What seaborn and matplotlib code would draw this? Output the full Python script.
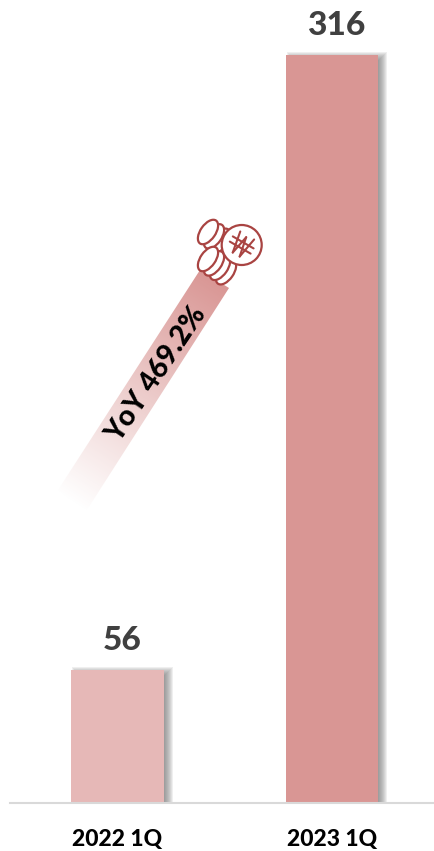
import numpy as np
import pandas as pd
import seaborn as sns
import matplotlib.pyplot as plt
from matplotlib.patches import Rectangle, Polygon, Circle, Ellipse

quarters = ['2022 1Q', '2023 1Q']
values = [56, 316]
bar_colors = ['#E6B8B7', '#D99694']
yoy_label = 'YoY 469.2%'

W, H = 434, 851

sns.set_theme(style='white')
plt.rcParams['font.family'] = ['Lato', 'DejaVu Sans']

df = pd.DataFrame({'quarter': quarters, 'value': values})

fig = plt.figure(figsize=(W / 100, H / 100), dpi=100)
ax = fig.add_axes([10 / W, (H - 803) / H, (W - 10) / W, 803 / H])

sns.barplot(data=df, x='quarter', y='value', hue='quarter', palette=bar_colors,
            legend=False, width=0.433, saturation=1, edgecolor='none', linewidth=0,
            ax=ax, zorder=3)

ax.set_xlim(-0.501, 1.4755)
ax.set_ylim(0, 803 / (748 / 316))
ax.set_xlabel('')
ax.set_ylabel('')
ax.set_yticks([])
ax.patch.set_alpha(0)
sns.despine(ax=ax, left=True)
ax.spines['bottom'].set_color('#D9D9D9')
ax.spines['bottom'].set_linewidth(1.5)
ax.spines['bottom'].set_zorder(4)
ax.tick_params(axis='x', length=0, pad=19)
for lab in ax.get_xticklabels():
    lab.set_fontsize(16.5)
    lab.set_fontweight('black')
    lab.set_color('black')

# soft shadow behind each bar, stacked rectangles around the bar edges
px_x = (ax.get_xlim()[1] - ax.get_xlim()[0]) / (W - 10)
px_y = ax.get_ylim()[1] / 803
for bar in list(ax.patches):
    x0, w, h = bar.get_x(), bar.get_width(), bar.get_height()
    for grow in range(4, -5, -1):
        ax.add_patch(Rectangle((x0 + (5 - grow) * px_x, 0),
                               w + 2 * grow * px_x, h + (grow - 1) * px_y,
                               fc='#6E6E6E', ec='none', alpha=0.11, zorder=2))
    ax.text(x0 + w / 2 + 4.5 * px_x, h + 15 * px_y, '%d' % h, ha='center', va='bottom',
            fontsize=24, fontweight='black', color='#404040', zorder=5)

# overlay in pixel coordinates for the arrow band and the coin icon
ov = fig.add_axes([0, 0, 1, 1], zorder=5)
ov.set_xlim(0, W)
ov.set_ylim(H, 0)
ov.axis('off')

corners = [(200, 270), (229, 288), (85, 513), (58, 490)]
top = np.array([214.5, 279.0])
tail = np.array([71.5, 501.5])
axis_vec = tail - top
xx, yy = np.meshgrid(np.arange(50, 235), np.arange(265, 520))
t = ((xx - top[0]) * axis_vec[0] + (yy - top[1]) * axis_vec[1]) / (axis_vec @ axis_vec)
t = np.clip(t, 0, 1)
rgba = np.zeros(t.shape + (4,))
rgba[..., :3] = np.array([217, 150, 148]) / 255
rgba[..., 3] = 1 - t
im = ov.imshow(rgba, extent=(50, 235, 520, 265), interpolation='bilinear', aspect='auto', zorder=1)
clip = Polygon(corners, closed=True, transform=ov.transData, fc='none', ec='none')
ov.add_patch(clip)
im.set_clip_path(clip)
ov.set_xlim(0, W)
ov.set_ylim(H, 0)

ov.text(157, 374, yoy_label, rotation=56, rotation_mode='anchor', ha='center', va='center',
        fontsize=20.5, fontweight='black', color='black', zorder=3)

# coin stacks, back to front, upper stack first
icon = '#A94442'
lw = 1.6
order = 3.0
for cx, cy, n in [(208, 232, 2), (208, 259, 3)]:
    for i in range(n, -1, -1):
        order += 0.01
        ov.add_patch(Ellipse((cx + i * 6, cy + i * 4.4), 15, 28, angle=35,
                             fc='white', ec=icon, lw=lw, zorder=order))
ov.add_patch(Circle((241.7, 245), 20, fc='white', ec=icon, lw=lw, zorder=4))

# won sign drawn as strokes, tilted with the coin
ang = np.deg2rad(30)
rot = np.array([[np.cos(ang), -np.sin(ang)], [np.sin(ang), np.cos(ang)]])
strokes = [[(-12, -3), (12, -3)], [(-12, 3), (12, 3)],
           [(-8, -11), (-4, 11)], [(-4, 11), (0, -9)], [(0, -9), (4, 11)], [(4, 11), (8, -11)]]
for s in strokes:
    p = np.array(s) @ rot.T + np.array([241.7, 245])
    ov.plot(p[:, 0], p[:, 1], color=icon, lw=1.5, solid_capstyle='round', zorder=5)

fig.savefig('out.png', dpi=100, facecolor='white')
